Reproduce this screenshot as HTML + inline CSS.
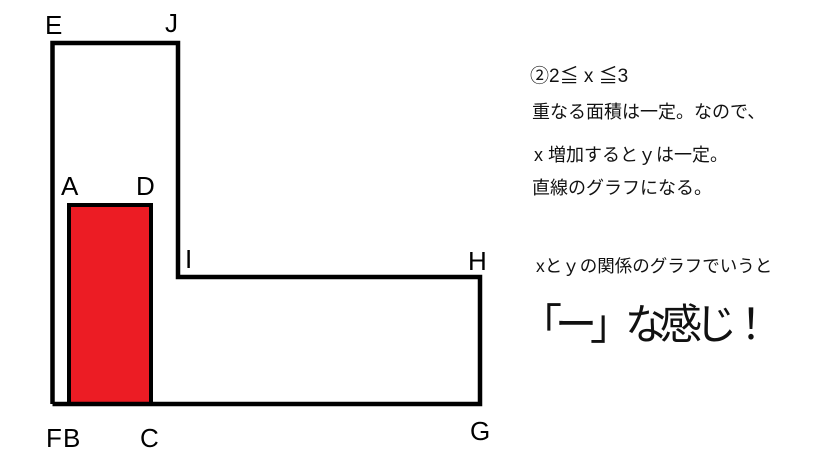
<!DOCTYPE html>
<html><head><meta charset="utf-8"><style>
body{margin:0;background:#fff;width:819px;height:460px;overflow:hidden;position:relative}
svg{position:absolute;left:0;top:0}
.t{position:absolute;font-family:"Liberation Sans","Noto Sans CJK JP",sans-serif;color:#111;white-space:nowrap;line-height:1}
</style></head><body>
<svg width="819" height="460">
<rect x="69" y="205" width="82" height="199" fill="#ec1c24" stroke="#000" stroke-width="4"/>
<polyline points="52.5,404 52.5,43 178,43 178,277 480,277 480,404 52.5,404" fill="none" stroke="#000" stroke-width="4.5"/>
<g font-family="Liberation Sans,sans-serif" font-size="26" fill="#000">
<text x="45" y="34">E</text><text x="165" y="32">J</text>
<text x="61" y="195">A</text><text x="136" y="195">D</text>
<text x="185" y="268">I</text><text x="468" y="270">H</text>
<text x="46" y="447">F</text><text x="63" y="447">B</text>
<text x="140" y="447">C</text><text x="470" y="440">G</text>
</g>
</svg>
<div class="t" style="left:530px;top:67px;font-size:19px">②2≦ x ≦3</div>
<div class="t" style="left:532px;top:103px;font-size:18px">重なる面積は一定。なので、</div>
<div class="t" style="left:534px;top:146px;font-size:18px">x 増加するとｙは一定。</div>
<div class="t" style="left:532px;top:179px;font-size:18px">直線のグラフになる。</div>
<div class="t" style="left:536px;top:258px;font-size:17.5px">xとｙの関係のグラフでいうと</div>
<div class="t" style="left:520px;top:304px;font-size:42px;letter-spacing:-7px">「ー」な感じ！</div>
</body></html>
